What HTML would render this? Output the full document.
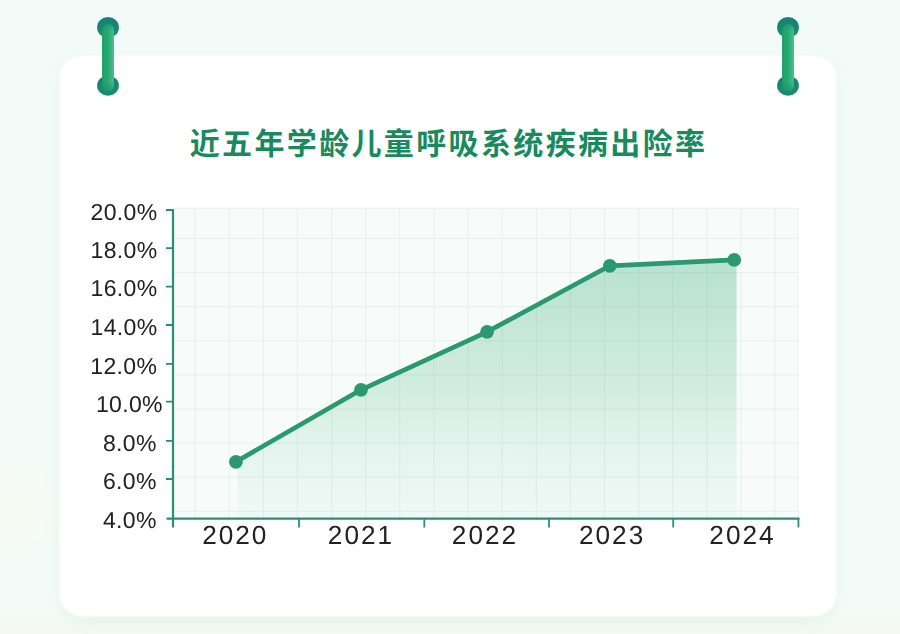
<!DOCTYPE html>
<html lang="zh-CN">
<head>
<meta charset="utf-8">
<title>近五年学龄儿童呼吸系统疾病出险率</title>
<style>
html,body{margin:0;padding:0;}
body{width:900px;height:634px;overflow:hidden;background:#f3fbf8;font-family:"Liberation Sans","Noto Sans CJK SC",sans-serif;}
svg{display:block;position:absolute;left:0;top:0;}
h1{position:absolute;left:190px;top:126px;margin:0;font-size:30px;line-height:34px;letter-spacing:2.3px;color:transparent;font-weight:bold;white-space:nowrap;}
</style>
</head>
<body>
<h1>近五年学龄儿童呼吸系统疾病出险率</h1>
<svg width="900" height="634" viewBox="0 0 900 634" role="img" aria-label="近五年学龄儿童呼吸系统疾病出险率">
<title>近五年学龄儿童呼吸系统疾病出险率</title>
<defs>
<linearGradient id="ag" x1="0" y1="259" x2="0" y2="519" gradientUnits="userSpaceOnUse">
<stop offset="0" stop-color="#38ab78" stop-opacity="0.33"/>
<stop offset="0.29" stop-color="#38ab78" stop-opacity="0.25"/>
<stop offset="0.51" stop-color="#38ab78" stop-opacity="0.19"/>
<stop offset="0.73" stop-color="#38ab78" stop-opacity="0.10"/>
<stop offset="0.93" stop-color="#38ab78" stop-opacity="0.055"/>
<stop offset="1" stop-color="#38ab78" stop-opacity="0.03"/>
</linearGradient>
<linearGradient id="pg" x1="0" y1="0" x2="1" y2="0">
<stop offset="0" stop-color="#1a9e67"/>
<stop offset="0.5" stop-color="#27a973"/>
<stop offset="1" stop-color="#4dbc8f"/>
</linearGradient>
<linearGradient id="cg" x1="0" y1="0" x2="0" y2="1">
<stop offset="0" stop-color="#177f79"/>
<stop offset="1" stop-color="#1b8e6c"/>
</linearGradient>
<linearGradient id="pe" x1="0" y1="0" x2="0" y2="1">
<stop offset="0" stop-color="#188770" stop-opacity="0.55"/>
<stop offset="0.1" stop-color="#188770" stop-opacity="0"/>
<stop offset="0.86" stop-color="#188770" stop-opacity="0"/>
<stop offset="1" stop-color="#188770" stop-opacity="0.6"/>
</linearGradient>
<radialGradient id="cream" cx="0.5" cy="0.5" r="0.5">
<stop offset="0" stop-color="#fcfaee" stop-opacity="0.55"/>
<stop offset="0.45" stop-color="#fcfaee" stop-opacity="0.4"/>
<stop offset="1" stop-color="#fcfaee" stop-opacity="0"/>
</radialGradient>
<linearGradient id="warm" x1="0" y1="0" x2="0" y2="1">
<stop offset="0" stop-color="#f4f8e8" stop-opacity="0"/>
<stop offset="1" stop-color="#f4f8e8" stop-opacity="0.55"/>
</linearGradient>
<filter id="soft" x="-5%" y="-5%" width="110%" height="110%"><feGaussianBlur stdDeviation="1.3"/></filter>
<filter id="sh" x="-10%" y="-10%" width="120%" height="120%"><feGaussianBlur stdDeviation="8"/></filter>
</defs>
<rect width="900" height="634" fill="#f3fbf8"/>
<ellipse cx="8" cy="507" rx="62" ry="50" fill="url(#cream)"/>
<rect x="0" y="612" width="900" height="22" fill="url(#warm)"/>
<rect x="59.5" y="61.5" width="777" height="561" rx="23" fill="#c6e6d8" opacity="0.36" filter="url(#sh)"/>
<rect x="59.5" y="55.5" width="777" height="561" rx="23" fill="#ffffff" filter="url(#soft)"/>
<ellipse cx="108" cy="27.4" rx="10.9" ry="10.3" fill="url(#cg)"/><ellipse cx="108" cy="85.6" rx="10.9" ry="10.1" fill="url(#cg)"/><rect x="102.05" y="24.1" width="11.9" height="67.1" rx="5.95" fill="url(#pg)"/><rect x="102.05" y="24.1" width="11.9" height="67.1" rx="5.95" fill="url(#pe)"/>
<ellipse cx="788" cy="27.4" rx="10.9" ry="10.3" fill="url(#cg)"/><ellipse cx="788" cy="85.6" rx="10.9" ry="10.1" fill="url(#cg)"/><rect x="782.05" y="24.1" width="11.9" height="67.1" rx="5.95" fill="url(#pg)"/><rect x="782.05" y="24.1" width="11.9" height="67.1" rx="5.95" fill="url(#pe)"/>
<g fill="#19895e"><text x="189.7" y="154.3" font-family="Liberation Sans, Noto Sans CJK SC, sans-serif" font-size="30" font-weight="bold" letter-spacing="2.36">近五年学龄儿童呼吸系统疾病出险率</text></g>
<rect x="174" y="208.3" width="624.2" height="309.7" fill="#f7fcfb"/><path d="M195.1 208.3V518M229.2 208.3V518M263.3 208.3V518M297.5 208.3V518M331.6 208.3V518M365.7 208.3V518M399.8 208.3V518M433.9 208.3V518M468.1 208.3V518M502.2 208.3V518M536.3 208.3V518M570.4 208.3V518M604.5 208.3V518M638.7 208.3V518M672.8 208.3V518M706.9 208.3V518M741.0 208.3V518M775.1 208.3V518M174 238.4H798.2M174 272.5H798.2M174 306.6H798.2M174 340.8H798.2M174 374.9H798.2M174 409.0H798.2M174 443.1H798.2M174 477.2H798.2M174 511.4H798.2M174 208.3H798.2V518" stroke="#e5eeec" stroke-width="0.9" fill="none"/>
<path d="M237.5 460.9 L361.0 389.8 L487.1 331.8 L609.8 265.8 L734.2 259.9 H736.6 V518.6 H237.5 Z" fill="url(#ag)"/><path d="M235.9 461.8 L361.0 389.8 L487.1 331.8 L609.8 265.8 L734.2 259.9" stroke="#2a9972" stroke-width="4.7" fill="none" stroke-linejoin="round" stroke-linecap="round"/><circle cx="235.9" cy="461.8" r="6.9" fill="#2a9972"/><circle cx="361.0" cy="389.8" r="6.9" fill="#2a9972"/><circle cx="487.1" cy="331.8" r="6.9" fill="#2a9972"/><circle cx="609.8" cy="265.8" r="6.9" fill="#2a9972"/><circle cx="734.2" cy="259.9" r="6.9" fill="#2a9972"/>
<path d="M173.0 209.1V527.6" stroke="#2b8f6f" stroke-width="2.2" fill="none"/><path d="M166.5 518.6H799.5" stroke="#2b8f6f" stroke-width="2.3" fill="none"/><path d="M166.0 210.0H173.0M166.0 248.2H173.0M166.0 286.7H173.0M166.0 325.0H173.0M166.0 363.8H173.0M166.0 401.6H173.0M166.0 440.8H173.0M166.0 479.0H173.0M299.0 518.6V527.6M424.3 518.6V527.6M549.0 518.6V527.6M673.2 518.6V527.6M798.4 518.6V527.6" stroke="#2b8f6f" stroke-width="1.8" fill="none"/>
<g font-family="Liberation Sans, sans-serif" fill="#222222" text-rendering="geometricPrecision" opacity="0.999"><text x="157.5" y="219.5" text-anchor="end" font-size="23.0" letter-spacing="0.35">20.0%</text><text x="157.5" y="257.9" text-anchor="end" font-size="23.0" letter-spacing="0.35">18.0%</text><text x="157.5" y="296.3" text-anchor="end" font-size="23.0" letter-spacing="0.35">16.0%</text><text x="157.5" y="334.9" text-anchor="end" font-size="23.0" letter-spacing="0.35">14.0%</text><text x="157.3" y="374.0" text-anchor="end" font-size="23.0" letter-spacing="0.35">12.0%</text><text x="162.9" y="411.8" text-anchor="end" font-size="23.0" letter-spacing="0.35">10.0%</text><text x="156.8" y="450.6" text-anchor="end" font-size="23.0" letter-spacing="0.35">8.0%</text><text x="156.8" y="489.0" text-anchor="end" font-size="23.0" letter-spacing="0.35">6.0%</text><text x="156.8" y="527.8" text-anchor="end" font-size="23.0" letter-spacing="0.35">4.0%</text><text x="235.3" y="544.3" text-anchor="middle" font-size="26.2" letter-spacing="2.0">2020</text><text x="361.0" y="544.3" text-anchor="middle" font-size="26.2" letter-spacing="2.0">2021</text><text x="485.0" y="544.3" text-anchor="middle" font-size="26.2" letter-spacing="2.0">2022</text><text x="612.1" y="544.3" text-anchor="middle" font-size="26.2" letter-spacing="2.0">2023</text><text x="742.5" y="544.3" text-anchor="middle" font-size="26.2" letter-spacing="2.0">2024</text></g>
</svg>
</body>
</html>
